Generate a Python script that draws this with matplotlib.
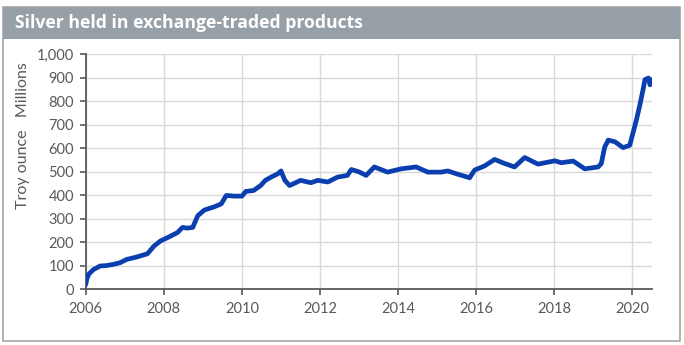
import matplotlib
matplotlib.use("Agg")
import matplotlib.pyplot as plt
from matplotlib.patches import Rectangle

title = "Silver held in exchange-traded products"
ylabel = "Troy ounce   Millions"

years = [2006.00, 2006.03, 2006.08, 2006.2, 2006.37, 2006.54, 2006.71, 2006.88,
         2007.05, 2007.3, 2007.58, 2007.75, 2007.92, 2008.1, 2008.35, 2008.48,
         2008.6, 2008.74, 2008.87, 2009.04, 2009.3, 2009.47, 2009.6, 2009.8,
         2010.0, 2010.1, 2010.3, 2010.48, 2010.6, 2010.75, 2010.92, 2011.0,
         2011.1, 2011.22, 2011.35, 2011.5, 2011.77, 2011.94, 2012.2, 2012.45,
         2012.7, 2012.8, 2012.88, 2013.0, 2013.18, 2013.39, 2013.73, 2014.08,
         2014.46, 2014.76, 2015.1, 2015.27, 2015.53, 2015.83, 2015.96, 2016.21,
         2016.47, 2016.72, 2016.98, 2017.24, 2017.58, 2018.01, 2018.18, 2018.48,
         2018.78, 2019.12, 2019.2, 2019.29, 2019.38, 2019.55, 2019.76, 2019.93,
         2020.02, 2020.1, 2020.19, 2020.27, 2020.32, 2020.41, 2020.45, 2020.5]
holdings = [20, 45, 65, 84, 99, 101, 106, 113,
            127, 137, 151, 184, 206, 220, 241, 263,
            260, 263, 313, 337, 351, 363, 399, 396,
            396, 416, 420, 441, 463, 477, 491, 503,
            463, 441, 451, 463, 453, 463, 456, 477,
            484, 509, 505, 499, 484, 520, 498, 512,
            520, 498, 498, 503, 489, 474, 507, 524,
            552, 535, 520, 560, 532, 546, 538, 545,
            512, 520, 534, 605, 634, 627, 602, 612,
            669, 719, 784, 848, 891, 898, 869, 891]

x_ticks = [2006, 2008, 2010, 2012, 2014, 2016, 2018, 2020]
y_ticks = [0, 100, 200, 300, 400, 500, 600, 700, 800, 900, 1000]
y_tick_labels = ["0", "100", "200", "300", "400", "500", "600", "700", "800", "900", "1,000"]

plt.rcParams['font.family'] = ['Lato', 'DejaVu Sans']
W, H = 684, 345
fig = plt.figure(figsize=(W / 100, H / 100), dpi=100)
fig.patch.set_facecolor('white')

# outer frame
fig.patches.append(Rectangle((3 / W, 1 - 341 / H), 677 / W, 334 / H, transform=fig.transFigure,
                             facecolor='none', edgecolor='#a6a6a6', linewidth=1.2, zorder=-2))
# title band
fig.patches.append(Rectangle((3 / W, 1 - 39 / H), 677 / W, 32 / H, transform=fig.transFigure,
                             facecolor='#98A0A7', edgecolor='none', zorder=-1))
fig.text(15 / W, 1 - 23 / H, title, color='white', fontsize=12.7, fontweight='bold',
         family=['Open Sans', 'DejaVu Sans'], va='center', ha='left')

ax = fig.add_axes([85.7 / W, 1 - 289.3 / H, 566.3 / W, (289.3 - 54) / H])
ax.set_zorder(2)
ax.set_facecolor('none')
ax.plot(years, holdings, color='#0B3FAF', linewidth=3.4, solid_joinstyle='round',
        solid_capstyle='round', zorder=3)
ax.set_xlim(2006, 2020.5)
ax.set_ylim(0, 1000)
ax.set_xticks(x_ticks)
ax.set_xticklabels([str(t) for t in x_ticks])
ax.set_yticks(y_ticks)
ax.set_yticklabels(y_tick_labels)
ax.grid(True, color='#d9d9d9', linewidth=1.0, zorder=0)
ax.set_axisbelow(True)
for s in ['top', 'right']:
    ax.spines[s].set_visible(False)
for s in ['left', 'bottom']:
    ax.spines[s].set_color('#595959')
    ax.spines[s].set_linewidth(1.3)
ax.tick_params(axis='both', colors='#595959', labelsize=10.5, length=4.5, width=1.2,
               labelcolor='#595959')
ax.tick_params(axis='x', pad=5)
ax.tick_params(axis='y', pad=4)
fig.text(23 / W, 1 - 136 / H, ylabel, rotation=90, color='#595959', fontsize=11.5,
         va='center', ha='center')

fig.savefig('out.png', dpi=100)
